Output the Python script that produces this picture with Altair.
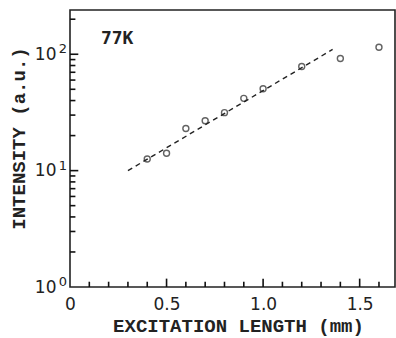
import altair as alt
import pandas as pd

# measured points (77K)
length_mm = [0.4, 0.5, 0.6, 0.7, 0.8, 0.9, 1.0, 1.2, 1.4, 1.6]
intensity = [12.6, 14.1, 23.0, 26.8, 31.5, 41.8, 50.5, 78.5, 91.9, 115.0]
# dashed fit line end points
fit_x = [0.3, 1.36]
fit_y = [10.0, 110.0]
# tick positions
x_labels = [0, 0.5, 1.0, 1.5]
x_major = [0.5, 1.0, 1.5]
x_minor = [0.1, 0.2, 0.3, 0.4, 0.6, 0.7, 0.8, 0.9, 1.1, 1.2, 1.3, 1.4, 1.6]
y_labels = [1, 10, 100]
y_exponents = ["0", "1", "2"]
y_major = [10, 100]
y_minor = [2, 3, 4, 5, 6, 7, 8, 9, 20, 30, 40, 50, 60, 70, 80, 90, 200]

INK = "#222222"
xs = alt.Scale(domain=[0, 1.683], nice=False, zero=False)
ys = alt.Scale(type="log", domain=[1, 240], nice=False)

xa = alt.Axis(values=x_labels,
              labelExpr="datum.value == 0 ? '0' : format(datum.value, '.1f')",
              tickSize=0, domain=False, grid=False, labelFlush=False,
              labelOverlap=False,
              labelFont="DejaVu Sans", labelFontSize=17, labelColor=INK,
              labelPadding=9,
              title="EXCITATION LENGTH (mm)", titleFont="Liberation Mono",
              titleFontSize=19, titleFontWeight="bold", titleColor=INK,
              titleX=168, titleY=38, titleBaseline="middle", titleAlign="center")
ya = alt.Axis(values=y_labels, labelExpr="'10'",
              tickSize=0, domain=False, grid=False, labelFlush=False,
              labelOverlap=False,
              labelFont="DejaVu Sans", labelFontSize=17, labelColor=INK,
              labelPadding=14,
              title="INTENSITY (a.u.)", titleFont="Liberation Mono",
              titleFontSize=19, titleFontWeight="bold", titleColor=INK,
              titleX=-52, titleY=128, titleAngle=-90,
              titleBaseline="middle", titleAlign="center")

pts = pd.DataFrame({"x": length_mm, "y": intensity})
fit = pd.DataFrame({"x": fit_x, "y": fit_y})

points = alt.Chart(pts).mark_point(shape="circle", filled=False, size=36,
                                   color=INK, strokeWidth=1.4).encode(
    x=alt.X("x:Q", scale=xs, axis=xa),
    y=alt.Y("y:Q", scale=ys, axis=ya),
)

line = alt.Chart(fit).mark_line(color=INK, strokeWidth=1.4,
                                strokeDash=[5, 4]).encode(
    x=alt.X("x:Q", scale=xs, axis=xa),
    y=alt.Y("y:Q", scale=ys, axis=ya),
)

def xticks(vals, top):
    df = pd.DataFrame({"x": vals, "y": [y_labels[0]] * len(vals)})
    return alt.Chart(df).mark_rule(color="#111111", strokeWidth=1.6).encode(
        x=alt.X("x:Q", scale=xs),
        y=alt.Y("y:Q", scale=ys),
        y2=alt.Y2(datum=top),
    )

def yticks(vals, right):
    df = pd.DataFrame({"y": vals, "x": [x_labels[0]] * len(vals)})
    return alt.Chart(df).mark_rule(color="#111111", strokeWidth=1.6).encode(
        y=alt.Y("y:Q", scale=ys),
        x=alt.X("x:Q", scale=xs),
        x2=alt.X2(datum=right),
    )

sup = alt.Chart(pd.DataFrame({"y": y_labels, "e": y_exponents,
                              "x": [x_labels[0]] * 3})).mark_text(
    font="DejaVu Sans", fontSize=13, color=INK,
    align="right", baseline="middle", dx=-3, dy=-5).encode(
    x=alt.X("x:Q", scale=xs),
    y=alt.Y("y:Q", scale=ys),
    text="e:N",
)

label = alt.Chart(pd.DataFrame({"t": ["77K"], "x": [0.16], "y": [135.6]})).mark_text(
    font="DejaVu Sans Mono", fontSize=18, fontWeight="bold", color=INK,
    align="left", baseline="middle").encode(
    x=alt.X("x:Q", scale=xs),
    y=alt.Y("y:Q", scale=ys),
    text="t:N",
)

chart = alt.layer(
    line, points, label, sup,
    xticks(x_minor, 1.11), xticks(x_major, 1.18),
    yticks(y_minor, 0.028), yticks(y_major, 0.043),
).properties(
    width=325, height=277,
    autosize=alt.AutoSizeParams(type="none"),
    padding={"left": 70, "top": 10, "right": 1, "bottom": 51},
    background="white",
).configure_view(stroke=INK, strokeWidth=1.6)

chart.save("out.html", embed_options={"renderer": "svg", "actions": False})
